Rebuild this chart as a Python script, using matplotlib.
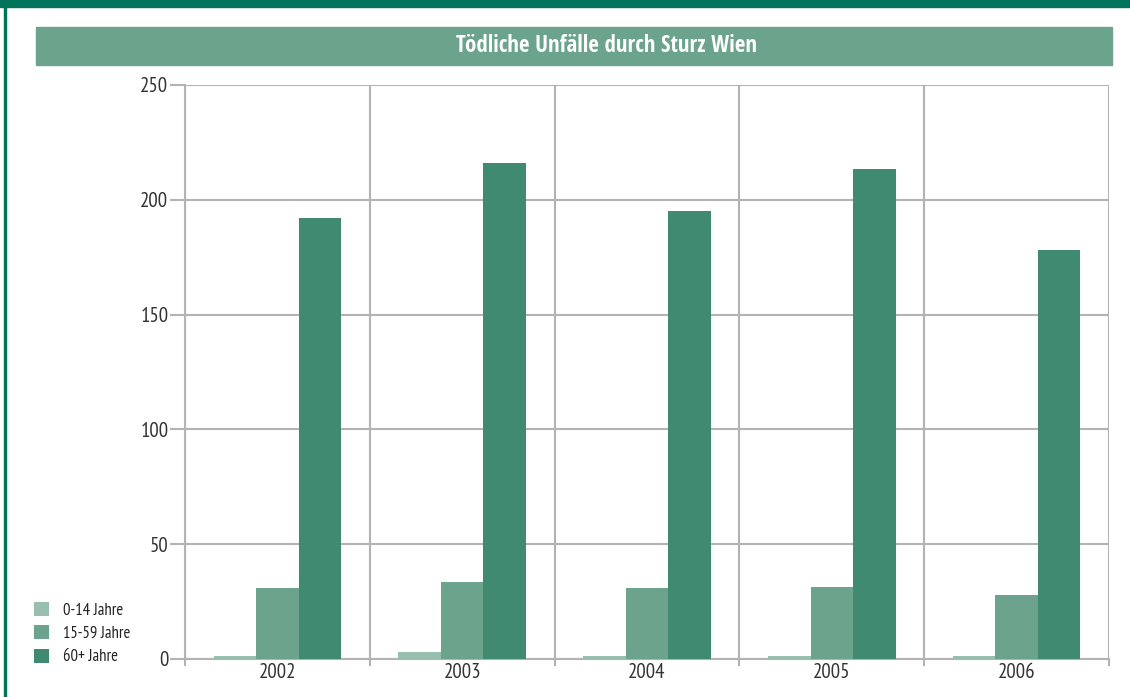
import numpy as np
import matplotlib.pyplot as plt
from matplotlib.patches import Rectangle

jahre = ['2002', '2003', '2004', '2005', '2006']
gruppen = ['0-14 Jahre', '15-59 Jahre', '60+ Jahre']
werte_0_14 = [1.5, 3, 1.3, 1.3, 1.3]
werte_15_59 = [31, 33.5, 31, 31.5, 28]
werte_60 = [192, 216, 195, 213.5, 178]
farben = ['#98bfad', '#6ba38c', '#3f8a71']

plt.rcParams['font.family'] = ['PT Sans Narrow', 'DejaVu Sans']

fig = plt.figure(figsize=(11.3, 6.97), dpi=100)
W, H = 1130, 697

# Rahmen oben und links
fig.patches.append(Rectangle((0, 1 - 7 / H), 1, 7 / H, transform=fig.transFigure,
                             color='#00735a', zorder=0))
fig.patches.append(Rectangle((4 / W, 0), 2 / W, 1, transform=fig.transFigure,
                             color='#00735a', zorder=0))
# Titelbalken
fig.patches.append(Rectangle((36 / W, 1 - 65 / H), (1112 - 36) / W, 38 / H,
                             transform=fig.transFigure, color='#6ba38c', zorder=0))
fig.text(607 / W, 1 - 46 / H, 'Tödliche Unfälle durch Sturz Wien', color='white',
         fontsize=16.5, fontweight='bold', ha='center', va='center',
         family=['Open Sans Condensed', 'DejaVu Sans'])

ax = fig.add_axes([185 / W, 1 - 659 / H, (1109 - 185) / W, (659 - 85) / H])
x = np.arange(len(jahre))
w = 0.23
for i, (werte, name) in enumerate(zip([werte_0_14, werte_15_59, werte_60], gruppen)):
    ax.bar(x + (i - 1) * w, werte, w, color=farben[i], label=name, zorder=3)

ax.set_xlim(-0.5, len(jahre) - 0.5)
ax.set_ylim(0, 250)
ax.set_yticks(range(0, 251, 50))
ax.set_xticks(x)
ax.set_xticklabels(jahre)
ax.set_xticks(np.arange(-0.5, len(jahre), 1), minor=True)

grau = '#b3b3b3'
ax.grid(axis='y', color=grau, linewidth=1.5, zorder=0)
ax.grid(axis='x', which='minor', color=grau, linewidth=1.5, zorder=0)
for s in ['top', 'right']:
    ax.spines[s].set_visible(False)
for s in ['left', 'bottom']:
    ax.spines[s].set_color(grau)
    ax.spines[s].set_linewidth(1.5)
ax.tick_params(axis='y', length=10.5, width=1.5, color=grau, labelsize=15,
               labelcolor='#333333', pad=1.5)
ax.tick_params(axis='x', which='major', length=0, labelsize=15,
               labelcolor='#333333', pad=3)
ax.tick_params(axis='x', which='minor', length=5, width=1.5, color=grau)

leg = fig.legend(loc='upper left', bbox_to_anchor=(34 / W, 1 - 602 / H),
                 frameon=False, fontsize=12, borderpad=0, borderaxespad=0,
                 handlelength=0.9, handleheight=0.9, handletextpad=0.85,
                 labelspacing=0.4)
for t in leg.get_texts():
    t.set_color('#222222')

fig.savefig('out.png', dpi=100)
